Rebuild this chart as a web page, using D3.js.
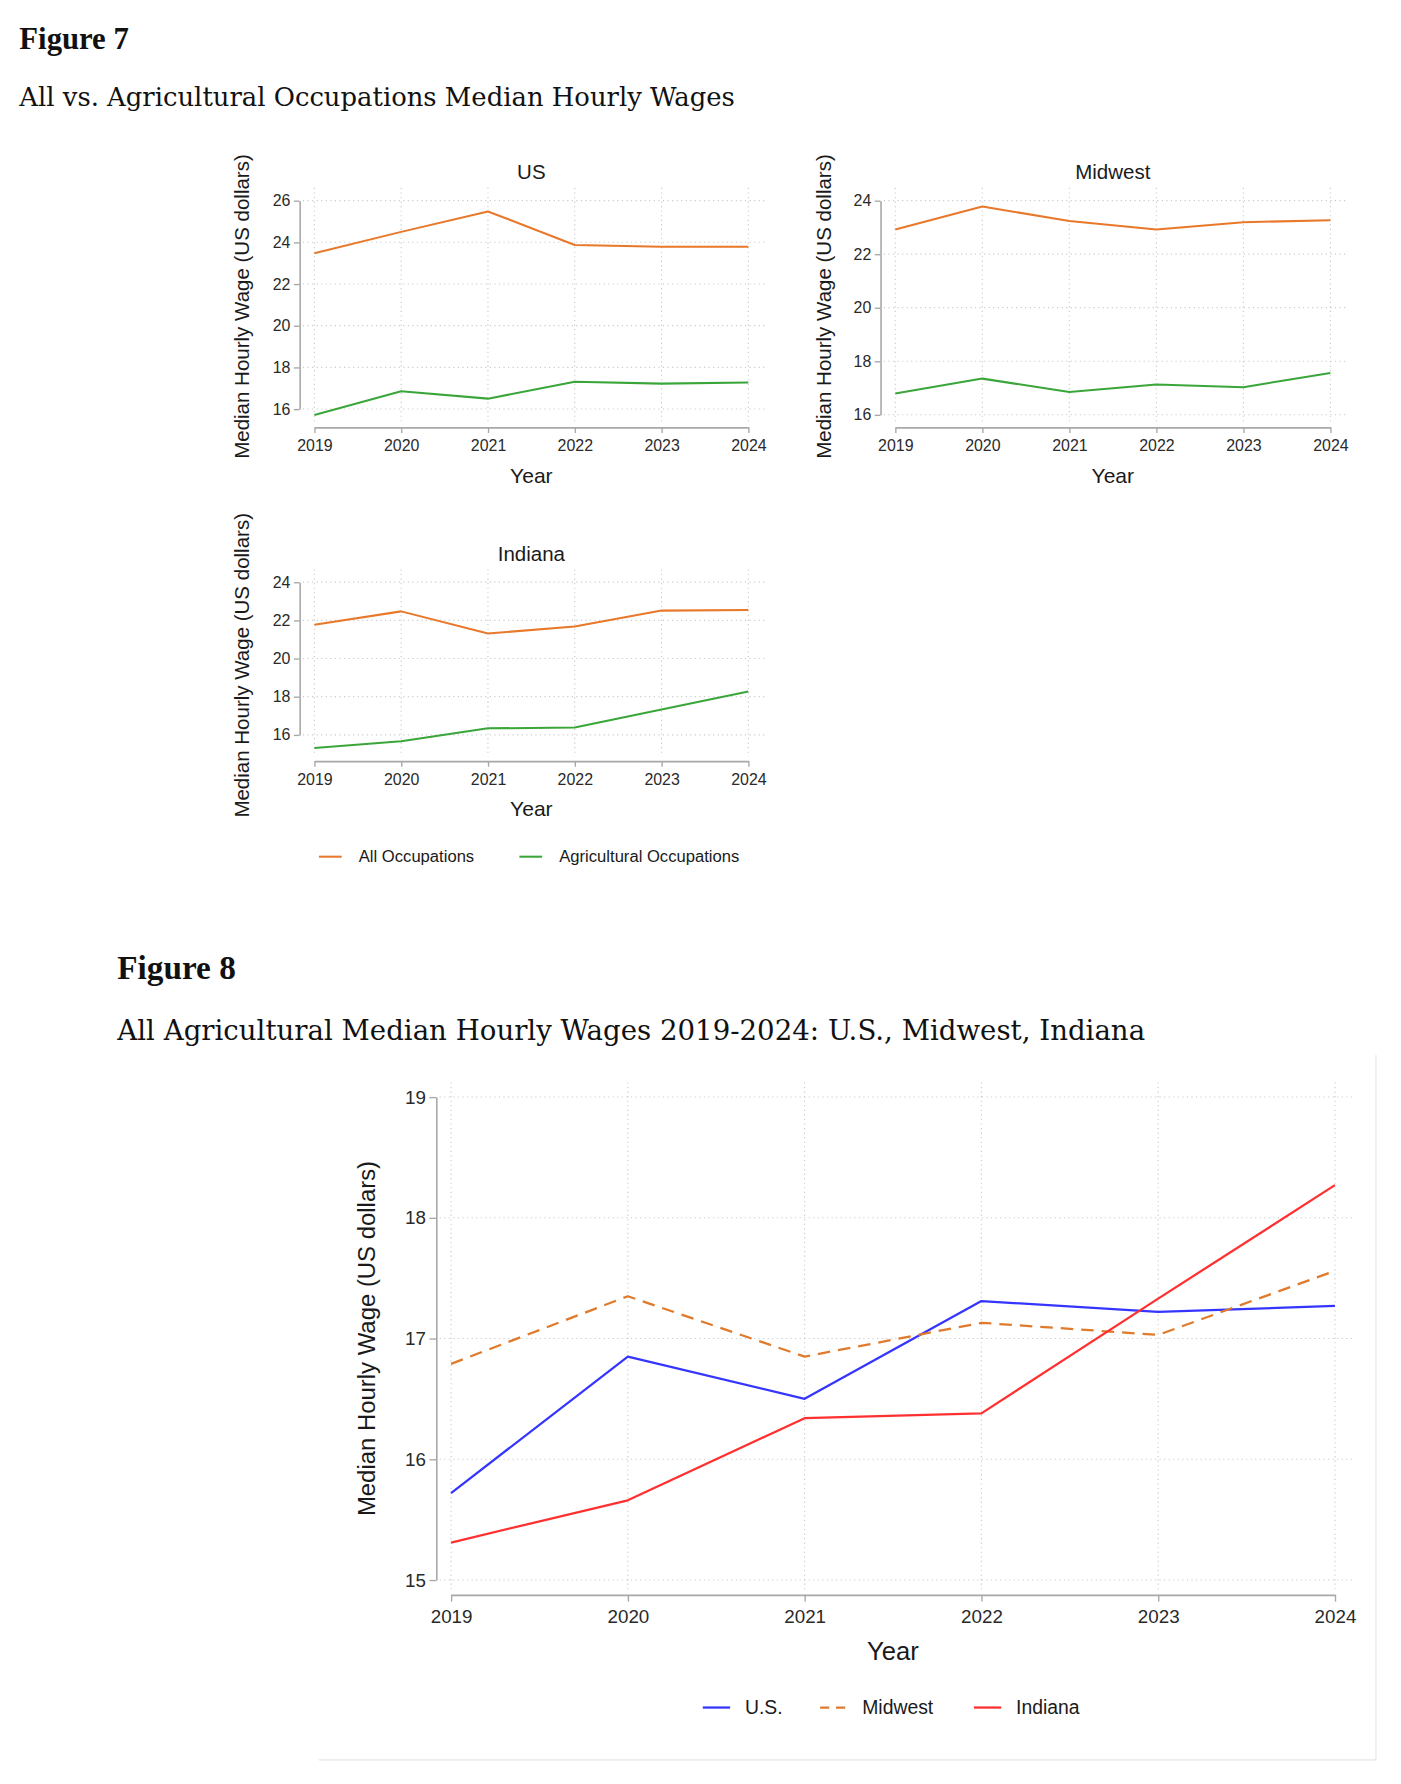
<!DOCTYPE html>
<html>
<head>
<meta charset="utf-8">
<script src="https://cdn.jsdelivr.net/npm/d3@7"></script>
<style>
  body { margin: 0; background: #fff; }
  svg { display: block; }
</style>
</head>
<body>
<div id="chart"></div>
<script>
// years on the x axis, shared by every panel
var years = [2019, 2020, 2021, 2022, 2023, 2024];

// figure 7: all occupations vs agricultural occupations (median hourly wage, $)
var usAll       = [23.48, 24.50, 25.48, 23.87, 23.79, 23.79];
var usAg        = [15.72, 16.85, 16.50, 17.31, 17.22, 17.27];
var midwestAll  = [22.92, 23.78, 23.24, 22.92, 23.19, 23.27];
var midwestAg   = [16.79, 17.35, 16.85, 17.13, 17.03, 17.56];
var indianaAll  = [21.77, 22.47, 21.31, 21.68, 22.51, 22.54];
var indianaAg   = [15.31, 15.66, 16.34, 16.38, 17.33, 18.27];

// tick labels
var usTicks      = [16, 18, 20, 22, 24, 26];
var midwestTicks = [16, 18, 20, 22, 24];
var indianaTicks = [16, 18, 20, 22, 24];
var fig8Ticks    = [15, 16, 17, 18, 19];

var fig7Series = ['All Occupations', 'Agricultural Occupations'];
var fig8Series = ['U.S.', 'Midwest', 'Indiana'];

var orange = '#e8782a', green = '#3aa63a';
var blue = '#3535ff', red = '#ff3030', dashOrange = '#e07a2c';
var sans = '"Liberation Sans", Arial, Helvetica, sans-serif';
var serif = '"DejaVu Serif", "Liberation Serif", serif';
var boldSerif = '"Liberation Serif", "DejaVu Serif", serif';
var ink = '#1a1a1a';

// page is laid out in a 1230 wide frame and scaled to the window
var svg = d3.select('#chart').append('svg')
  .attr('width', 1401)
  .attr('height', 1784)
  .attr('viewBox', '0 0 1230 1566');

svg.append('rect').attr('width', 1230).attr('height', 1566).attr('fill', '#fff');

// serif headings, font size tuned so the line spans the same width as the original
var heading = function(x, y, txt, bold, width) {
  var t = svg.append('text').attr('x', x).attr('y', y)
    .style('font-family', bold ? boldSerif : serif).style('font-weight', bold ? 'bold' : 'normal')
    .style('font-size', '22px').attr('fill', '#111').text(txt);
  var w = t.node().getComputedTextLength();
  if (w > 0) t.style('font-size', (22 * width / w) + 'px');
  return t;
};
heading(17, 43, 'Figure 7', true, 96);
heading(17, 93, 'All vs. Agricultural Occupations Median Hourly Wages', false, 628);
heading(103, 859, 'Figure 8', true, 104);
heading(103, 913, 'All Agricultural Median Hourly Wages 2019-2024: U.S., Midwest, Indiana', false, 902);

// draws one stata-like panel: dotted grid, offset axes, lines
var drawPanel = function(cfg) {
  var g = svg.append('g');
  var x = d3.scaleLinear().domain([2019, 2024]).range([cfg.x0, cfg.x1]);
  var y = d3.scaleLinear().domain([cfg.ticks[0], cfg.ticks[cfg.ticks.length - 1]])
            .range([cfg.yBottom, cfg.yTop]);

  // grid
  g.selectAll('.hgrid').data(cfg.ticks).enter().append('line')
    .attr('x1', cfg.axisX + 3).attr('x2', cfg.x1 + cfg.gridPad)
    .attr('y1', function(d){ return y(d); }).attr('y2', function(d){ return y(d); })
    .attr('stroke', '#c8c8c8').attr('stroke-width', 1).attr('stroke-dasharray', '1,3');
  g.selectAll('.vgrid').data(years).enter().append('line')
    .attr('x1', function(d){ return x(d); }).attr('x2', function(d){ return x(d); })
    .attr('y1', cfg.yTop - cfg.gridPad * 0.8).attr('y2', cfg.axisY - 4)
    .attr('stroke', '#c8c8c8').attr('stroke-width', 1).attr('stroke-dasharray', '1,3');

  // axes
  var ya = g.append('g').attr('transform', 'translate(' + cfg.axisX + ',0)')
    .call(d3.axisLeft(y).tickValues(cfg.ticks).tickFormat(d3.format('d'))
      .tickSize(cfg.tickLen).tickSizeOuter(0).tickPadding(3));
  var xa = g.append('g').attr('transform', 'translate(0,' + cfg.axisY + ')')
    .call(d3.axisBottom(x).tickValues(years).tickFormat(d3.format('d'))
      .tickSize(cfg.tickLen).tickSizeOuter(0).tickPadding(cfg.xPad));
  [ya, xa].forEach(function(a){
    a.select('.domain').attr('stroke', '#a8a8a8').attr('stroke-width', 1.4);
    a.selectAll('.tick line').attr('stroke', '#a8a8a8').attr('stroke-width', 1.2);
    a.selectAll('.tick text').attr('fill', '#2a2a2a')
      .style('font-family', sans).style('font-size', cfg.tickFont + 'px');
  });

  // titles
  if (cfg.title) {
    g.append('text').attr('x', (cfg.x0 + cfg.x1) / 2).attr('y', cfg.titleY)
      .attr('text-anchor', 'middle').attr('fill', ink)
      .style('font-family', sans).style('font-size', cfg.titleFont + 'px').text(cfg.title);
  }
  g.append('text').attr('x', (cfg.x0 + cfg.x1) / 2).attr('y', cfg.yearY)
    .attr('text-anchor', 'middle').attr('fill', ink)
    .style('font-family', sans).style('font-size', cfg.yearFont + 'px').text('Year');
  g.append('text')
    .attr('transform', 'translate(' + cfg.ylabX + ',' + cfg.ylabY + ') rotate(-90)')
    .attr('text-anchor', 'middle').attr('fill', ink)
    .style('font-family', sans).style('font-size', cfg.labelFont + 'px')
    .text('Median Hourly Wage (US dollars)');

  // series
  var line = d3.line().x(function(d, i){ return x(years[i]); }).y(function(d){ return y(d); });
  cfg.series.forEach(function(s){
    g.append('path').datum(s.values)
      .attr('d', line).attr('fill', 'none')
      .attr('stroke', s.color).attr('stroke-width', cfg.lineWidth)
      .attr('stroke-dasharray', s.dash || null)
      .attr('stroke-linejoin', 'round');
  });
};

var small = {tickLen: 5, xPad: 6, gridPad: 14, tickFont: 14, labelFont: 18, yearFont: 18.5,
             titleFont: 18, lineWidth: 1.8};

drawPanel(Object.assign({}, small, {
  title: 'US', ticks: usTicks, x0: 276, x1: 657, yTop: 176, yBottom: 359,
  axisX: 263, axisY: 375, titleY: 157, yearY: 424, ylabX: 219, ylabY: 269,
  series: [{values: usAll, color: orange}, {values: usAg, color: green}]
}));
drawPanel(Object.assign({}, small, {
  title: 'Midwest', ticks: midwestTicks, x0: 786, x1: 1168, yTop: 176, yBottom: 364,
  axisX: 773, axisY: 375, titleY: 157, yearY: 424, ylabX: 730, ylabY: 269,
  series: [{values: midwestAll, color: orange}, {values: midwestAg, color: green}]
}));
drawPanel(Object.assign({}, small, {
  title: 'Indiana', ticks: indianaTicks, x0: 276, x1: 657, yTop: 511, yBottom: 645,
  axisX: 263, axisY: 668, titleY: 492, yearY: 716, ylabX: 219, ylabY: 584,
  series: [{values: indianaAll, color: orange}, {values: indianaAg, color: green}]
}));

// figure 7 legend
var leg7 = svg.append('g');
var leg7X = [280, 456];
fig7Series.forEach(function(name, i){
  leg7.append('line').attr('x1', leg7X[i]).attr('x2', leg7X[i] + 20)
    .attr('y1', 752).attr('y2', 752)
    .attr('stroke', i === 0 ? orange : green).attr('stroke-width', 1.8);
  leg7.append('text').attr('x', leg7X[i] + 35).attr('y', 757)
    .attr('fill', ink).style('font-family', sans).style('font-size', '14.6px').text(name);
});

// figure 8 frame
svg.append('line').attr('x1', 1208).attr('x2', 1208).attr('y1', 926).attr('y2', 1545)
  .attr('stroke', '#e6e6e6').attr('stroke-width', 1);
svg.append('line').attr('x1', 280).attr('x2', 1208).attr('y1', 1545).attr('y2', 1545)
  .attr('stroke', '#e6e6e6').attr('stroke-width', 1);

drawPanel({
  title: null, ticks: fig8Ticks, x0: 396, x1: 1172, yTop: 963, yBottom: 1387,
  axisX: 383, axisY: 1400, tickLen: 6, xPad: 7, gridPad: 16, tickFont: 16.5,
  labelFont: 21, yearFont: 22.5, lineWidth: 2,
  yearY: 1457, ylabX: 329, ylabY: 1175,
  series: [
    {values: usAg, color: blue},
    {values: midwestAg, color: dashOrange, dash: '11,7'},
    {values: indianaAg, color: red}
  ]
});

// figure 8 legend
var leg8 = svg.append('g');
var leg8X = [617, 720, 855];
var leg8Color = [blue, dashOrange, red];
fig8Series.forEach(function(name, i){
  leg8.append('line').attr('x1', leg8X[i]).attr('x2', leg8X[i] + 24)
    .attr('y1', 1499).attr('y2', 1499)
    .attr('stroke', leg8Color[i]).attr('stroke-width', 2)
    .attr('stroke-dasharray', i === 1 ? '8,6' : null);
  leg8.append('text').attr('x', leg8X[i] + 37).attr('y', 1505)
    .attr('fill', ink).style('font-family', sans).style('font-size', '17px').text(name);
});
</script>
</body>
</html>
